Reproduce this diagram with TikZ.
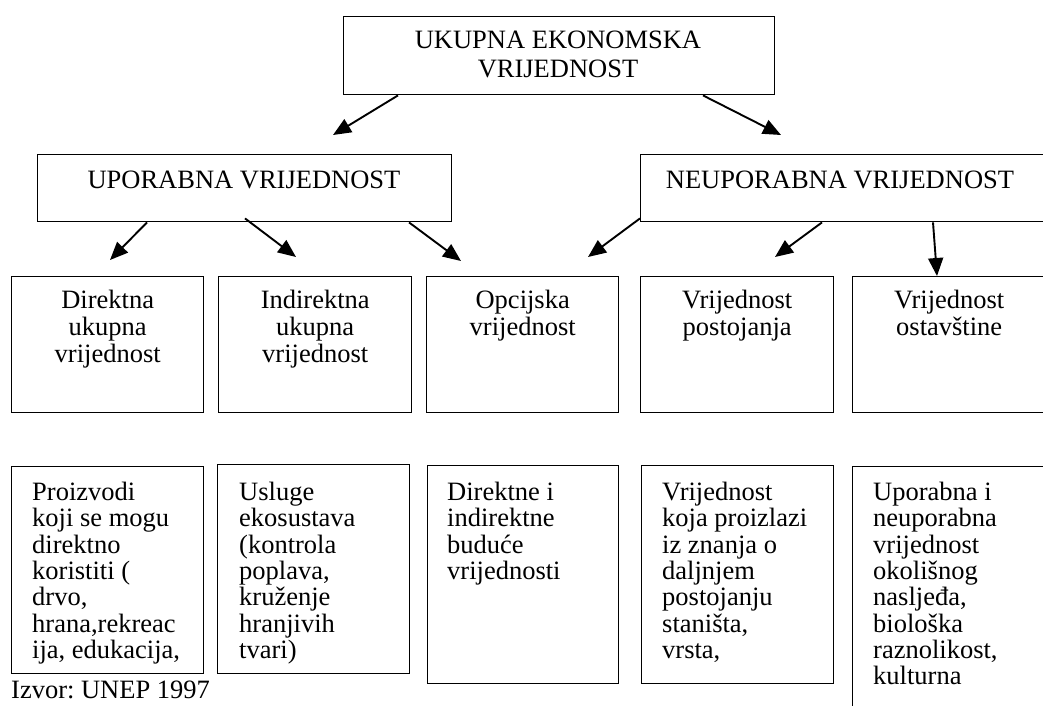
\documentclass[tikz,border=0pt]{standalone}
\usepackage{fontspec}
\setmainfont{Liberation Serif}
\usetikzlibrary{arrows.meta,calc}
\frenchspacing
\begin{document}
\begin{tikzpicture}[x=1pt,y=-1pt,
  box/.style={draw,line width=1.4pt,inner sep=0pt,anchor=north west},
  ctxt/.style={inner sep=0pt,font=\fontsize{26.5}{27}\selectfont,align=center,anchor=north},
  ltxt/.style={inner sep=0pt,font=\fontsize{26.5}{26.3}\selectfont,align=left,anchor=north west},
  arr/.style={line width=1.9pt,-{Triangle[length=18pt,width=15pt]}}]
\useasboundingbox (0,0) rectangle (1043,705);
\clip (0,0) rectangle (1043,705);
% boxes
\node[box,minimum width=431pt,minimum height=78pt] (top) at (343,16) {};
\node[box,minimum width=414pt,minimum height=67pt] (up) at (37,154) {};
\node[box,minimum width=406pt,minimum height=67pt] (nu) at (640,154) {};
\node[box,minimum width=192pt,minimum height=136pt] (m1) at (11,276) {};
\node[box,minimum width=193pt,minimum height=136pt] (m2) at (218,276) {};
\node[box,minimum width=192pt,minimum height=136pt] (m3) at (426,276) {};
\node[box,minimum width=193pt,minimum height=136pt] (m4) at (640,276) {};
\node[box,minimum width=193pt,minimum height=136pt] (m5) at (852,276) {};
\node[box,minimum width=192pt,minimum height=207pt] (b1) at (11,466) {};
\node[box,minimum width=192pt,minimum height=209pt] (b2) at (217,464) {};
\node[box,minimum width=191pt,minimum height=218pt] (b3) at (427,465) {};
\node[box,minimum width=192pt,minimum height=218pt] (b4) at (641,465) {};
\node[box,minimum width=193pt,minimum height=260pt] (b5) at (852,466) {};
% texts
\node[ctxt,font=\fontsize{26.5}{29}\selectfont] (ttop) at (558,31) {UKUPNA EKONOMSKA\\VRIJEDNOST};
\node[ctxt] (tup) at (244,171) {UPORABNA VRIJEDNOST};
\node[ctxt] (tnu) at (840,171) {NEUPORABNA VRIJEDNOST};
\node[ctxt] (tm1) at ($(m1.north)+(0,14)$) {Direktna\\ukupna\\vrijednost};
\node[ctxt] (tm2) at ($(m2.north)+(0,14)$) {Indirektna\\ukupna\\vrijednost};
\node[ctxt] (tm3) at ($(m3.north)+(0,14)$) {Opcijska\\vrijednost};
\node[ctxt] (tm4) at ($(m4.north)+(0,14)$) {Vrijednost\\postojanja};
\node[ctxt] (tm5) at ($(m5.north)+(0,14)$) {Vrijednost\\ostavštine};
\node[ltxt] (tb1) at (32,482) {Proizvodi\\koji se mogu\\direktno\\koristiti (\\drvo,\\hrana,rekreac\\ija, edukacija,};
\node[ltxt] (tb2) at (239,482) {Usluge\\ekosustava\\(kontrola\\poplava,\\kruženje\\hranjivih\\tvari)};
\node[ltxt] (tb3) at (447,482) {Direktne i\\indirektne\\buduće\\vrijednosti};
\node[ltxt] (tb4) at (662,482) {Vrijednost\\koja proizlazi\\iz znanja o\\daljnjem\\postojanju\\staništa,\\vrsta,};
\node[ltxt] (tb5) at (873,482) {Uporabna i\\neuporabna\\vrijednost\\okolišnog\\nasljeđa,\\biološka\\raznolikost,\\kulturna};
\node[inner sep=0pt,anchor=base west,font=\fontsize{26.5}{27}\selectfont] (izvor) at (11,698) {Izvor: UNEP 1997};
% arrow tips
\coordinate (a1) at (333,135);
\coordinate (a2) at (781,135);
\coordinate (a3) at (110,260);
\coordinate (a4) at (296,257);
\coordinate (a5) at (461,261);
\coordinate (a6) at (588,257);
\coordinate (a7) at (775,257);
% arrows
\draw[arr] ($(top.south west)+(55,0)$) -- (a1);
\draw[arr] ($(top.south west)+(360,0)$) -- (a2);
\draw[arr] ($(up.south west)+(110,0)$) -- (a3);
\draw[arr] ($(up.south west)+(208,-4)$) -- (a4);
\draw[arr] ($(up.south west)+(372,0)$) -- (a5);
\draw[arr] ($(nu.south west)+(0,-4)$) -- (a6);
\draw[arr] ($(nu.south west)+(182,0)$) -- (a7);
\draw[arr] ($(nu.south west)+(293,0)$) -- ($(m5.north west)+(85,0)$);
\end{tikzpicture}
\end{document}
